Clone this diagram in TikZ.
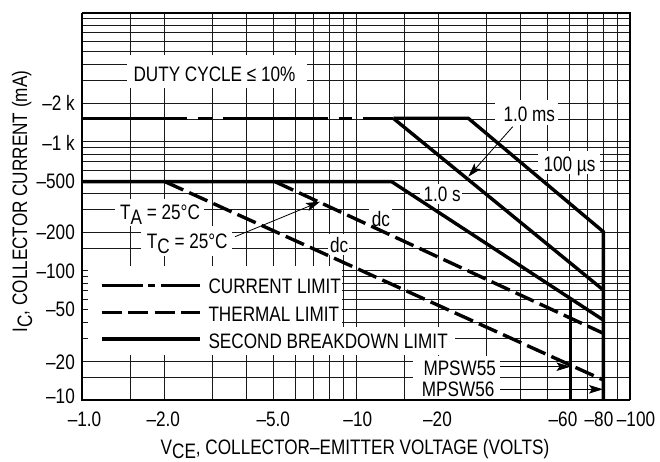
\documentclass[tikz,border=0pt]{standalone}
\usepackage{fontspec}
\setmainfont{Liberation Sans}[FakeStretch=0.82]
\usetikzlibrary{arrows.meta}
\newcommand\lsub[1]{\raisebox{-5bp}{#1}}
\begin{document}
\begin{tikzpicture}[x=1bp,y=-1bp,
  gridline/.style={line width=1bp, black!90},
  mask/.style={fill=white, draw=none},
  curve/.style={line width=3.4bp},
  climit/.style={curve, dash pattern=on 105bp off 11bp on 13.5bp off 11bp},
  tlimit/.style={curve, dash pattern=on 20bp off 6.5bp},
  lead/.style={line width=0.8bp, -{Stealth[length=14bp,width=8.5bp,inset=3bp]}},
  txt/.style={inner sep=0pt, font=\fontsize{21}{24}\selectfont},
  every node/.style={txt}]
\useasboundingbox (0,0) rectangle (660,462);
% grid
\foreach \m in {1,1.5,2,3,4,5,6,7,8,9}{
  \foreach \d in {0,1,2}{
    \pgfmathsetmacro\yy{400-129*(\d+log10(\m))}
    \draw[gridline] (82,\yy) -- (630,\yy);
  }
  \foreach \d in {0,1}{
    \pgfmathsetmacro\xx{82+274*(\d+log10(\m))}
    \draw[gridline] (\xx,13) -- (\xx,400);
  }
}
% masks behind labels
\fill[mask] (126.7,55) rectangle (306.7,88.3);
\fill[mask] (495,100) rectangle (557.7,125.5);
\fill[mask] (538,151) rectangle (600,174);
\fill[mask] (420,184) rectangle (462,204.5);
\fill[mask] (369,207.5) rectangle (392,229);
\fill[mask] (327.5,234) rectangle (349,255);
\fill[mask] (115,199.5) rectangle (204,226.5);
\fill[mask] (141,226.5) rectangle (232,256);
\fill[mask] (87.5,266.5) rectangle (342,327);
\fill[mask] (87.5,327) rectangle (455,355);
\fill[mask] (413,355.5) rectangle (500,398.8);
% frame
\draw[line width=1.5bp] (82,13) -- (630,13) -- (630,400);
\draw[line width=2.6bp] (82,13) -- (82,400) -- (630,400);
% curves
\draw[climit] (82,118.3) -- (393.3,118.3);
\draw[curve] (393.3,118.3) -- (468.3,118.3) -- (603.3,231.7) -- (603.3,400);
\draw[curve] (393.3,118.3) -- (603.3,290);
\draw[curve] (82,181.7) -- (391.7,181.7) -- (603.3,320);
\draw[curve] (570.7,298.4) -- (570.7,400);
\draw[tlimit] (275,181.7) -- (603.3,333.3);
\draw[tlimit] (165,181.7) -- (603.3,380);
% labels in plot
\node[anchor=base west] (duty) at (133.3,81.7) {DUTY CYCLE ≤ 10\%};
\node[anchor=base west] (ms) at (503.3,122) {1.0 ms};
\node[anchor=base west] (us) at (543.3,171.5) {100 µs};
\node[anchor=base west] (s1) at (423.3,201.7) {1.0 s};
\node[anchor=base west] (dcA) at (371.7,226.3) {dc};
\node[anchor=base west] (dcB) at (330,252.7) {dc};
\node[anchor=base west] (ta) at (120,220) {T\lsub{A} = 25°C};
\node[anchor=base west] (tc) at (146.7,248.3) {T\lsub{C} = 25°C};
\node[anchor=base west] (m55) at (423.3,375) {MPSW55};
\node[anchor=base west] (m56) at (421.7,396.7) {MPSW56};
% leaders
\coordinate (msS) at (512.7,126.7);
\coordinate (msT) at (468.3,176.7);
\coordinate (tcS) at (235,236.7);
\coordinate (tcT) at (320,201.7);
\coordinate (m55S) at (500,366.7);
\coordinate (m55T) at (570.5,366.7);
\coordinate (m56S) at (500,389.3);
\coordinate (m56T) at (603,389.3);
\draw[lead] (msS) -- (msT);
\draw[lead] (tcS) -- (tcT);
\draw[lead] (m55S) -- (m55T);
\draw[lead] (m56S) -- (m56T);
% legend
\draw[curve, dash pattern=on 41.6bp off 5bp on 6.7bp off 6bp] (101.7,285.5) -- (200,285.5);
\draw[curve, dash pattern=on 20bp off 6.5bp] (101.7,312.3) -- (200,312.3);
\draw[curve] (101.7,339) -- (200,339);
\node[anchor=base west] (lg1) at (208.3,294) {CURRENT LIMIT};
\node[anchor=base west] (lg2) at (208.3,321.3) {THERMAL LIMIT};
\node[anchor=base west] (lg3) at (208.3,348) {SECOND BREAKDOWN LIMIT};
% y tick labels
\node[anchor=east] (y2k) at (75,103.3) {–2 k};
\node[anchor=east] (y1k) at (75,143.3) {–1 k};
\node[anchor=east] (y500) at (75,181.7) {–500};
\node[anchor=east] (y200) at (75,232.5) {–200};
\node[anchor=east] (y100) at (75,270.8) {–100};
\node[anchor=east] (y50) at (75,309.2) {–50};
\node[anchor=east] (y20) at (75,362.5) {–20};
\node[anchor=east] (y10) at (75,396.7) {–10};
% x tick labels
\node[anchor=base] (x1) at (84.5,426.5) {–1.0};
\node[anchor=base] (x2) at (163.3,426.5) {–2.0};
\node[anchor=base] (x5) at (273.3,426.5) {–5.0};
\node[anchor=base] (x10) at (357.8,426.5) {–10};
\node[anchor=base] (x20) at (437.5,426.5) {–20};
\node[anchor=base] (x60) at (563,426.5) {–60};
\node[anchor=base] (x80) at (599,426.5) {–80};
\node[anchor=base] (x100) at (636,426.5) {–100};
% axis titles
\node[anchor=base] (xt) at (355,454) {V\raisebox{-4bp}{CE}, COLLECTOR–EMITTER VOLTAGE (VOLTS)};
\node[rotate=90, anchor=base] (yt) at (27,201.5) {I\lsub{C}, COLLECTOR CURRENT (mA)};
\end{tikzpicture}
\end{document}
